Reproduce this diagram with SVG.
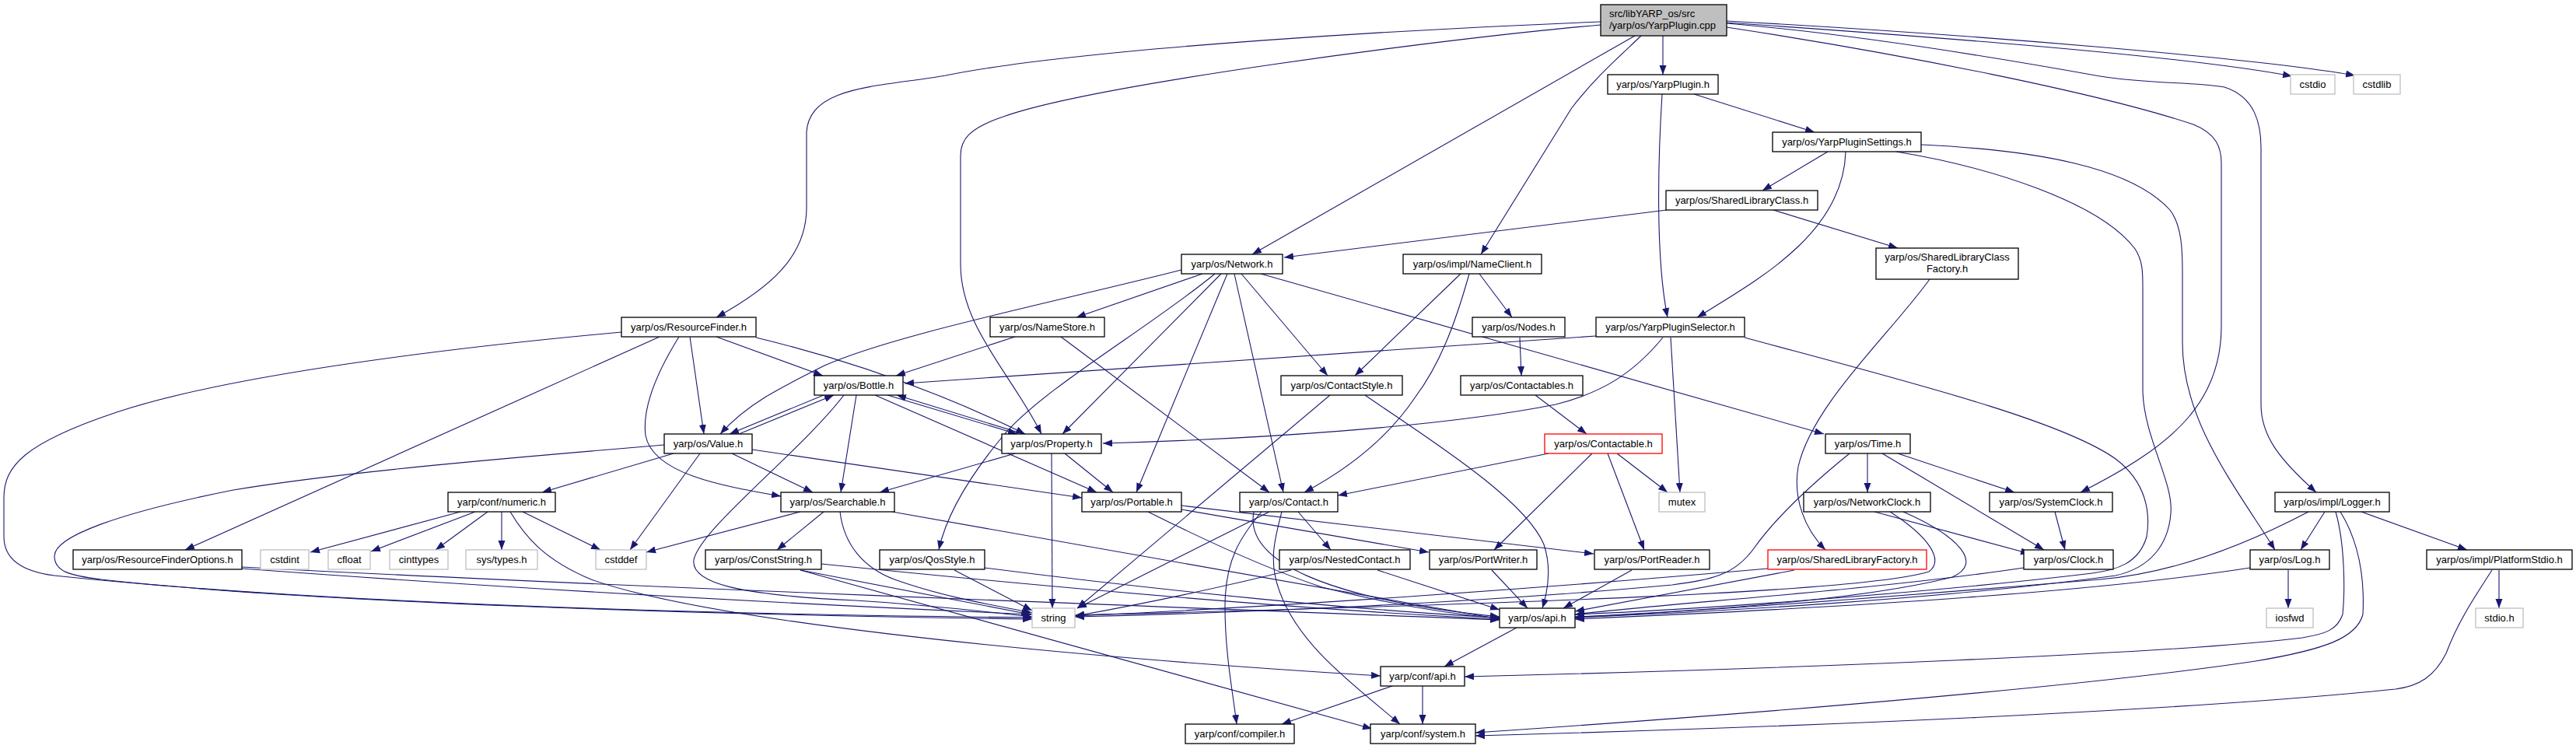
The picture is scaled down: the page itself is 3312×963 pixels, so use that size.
<svg xmlns="http://www.w3.org/2000/svg" width="3312" height="963" viewBox="0 0 3312 963">
<defs>
<marker id="a" markerWidth="12" markerHeight="10" refX="12" refY="5" orient="auto" markerUnits="userSpaceOnUse"><path d="M0,0.5 L12,5 L0,9.5 z" fill="#191970"/></marker>
<style>
.n rect{fill:#fff;stroke:#000;stroke-width:1.3}
.g rect{stroke:#bfbfbf}
.r rect{stroke:#ff0000}
.m rect{fill:#bfbfbf}
text{font-family:"Liberation Sans",Arial,Helvetica,sans-serif;font-size:13px;fill:#000;text-anchor:middle}
.e path{fill:none;stroke:#191970;stroke-width:1.1;marker-end:url(#a)}
</style>
</defs>
<rect width="3312" height="963" fill="#fff"/>
<g class="e" id="edges">
<path d="M2138,46 L2138,96"/>
<path d="M2220,29 C2450,45 2800,70 2947,98"/>
<path d="M2220,27 C2550,45 2900,75 3028,97"/>
<path d="M2220,30 C2400,45 2600,80 2700,98 C2760,108 2820,105 2860,112 C2900,125 2907,160 2907,190 L2907,520 C2907,560 2930,590 2978,633"/>
<path d="M2220,35 C2450,70 2700,120 2820,160 C2850,172 2856,190 2856,210 L2856,420 C2856,520 2790,575 2675,633"/>
<path d="M2102,46 L1610,327"/>
<path d="M2110,46 C2085,70 2050,100 2020,140 L1904,327"/>
<path d="M2058,28 C1850,36 1400,60 1216,97 C1130,112 1040,110 1037,170 L1037,267 C1037,330 990,370 921,408"/>
<path d="M2058,32 C1850,50 1400,110 1290,150 C1245,165 1235,180 1235,200 L1235,340 C1235,420 1300,480 1339,558"/>
<path d="M2178,121 L2333,170"/>
<path d="M2137,121 C2132,200 2128,330 2144,408"/>
<path d="M2350,195 L2266,245"/>
<path d="M2373,195 C2370,300 2260,360 2182,408"/>
<path d="M2470,186 C2620,193 2740,215 2790,270 C2805,290 2806,320 2806,350 L2806,440 C2806,540 2870,620 2925,707"/>
<path d="M2438,195 C2560,215 2700,260 2745,320 C2755,335 2755,350 2755,370 L2755,500 C2755,560 2795,620 2791,660 C2788,700 2765,730 2720,740 C2500,770 2200,787 2025,794"/>
<path d="M2243,434 C2450,490 2650,540 2720,590 C2760,620 2765,660 2760,690 C2750,725 2720,733 2690,737 C2500,760 2200,783 2025,790"/>
<path d="M2143,270 L1651,331"/>
<path d="M2280,270 L2440,319"/>
<path d="M2481,359 C2430,430 2330,520 2312,600 C2305,640 2320,680 2347,707"/>
<path d="M1546,352 L1384,408"/>
<path d="M1519,347 C1350,390 1150,430 1060,470 C1000,500 960,520 926,558"/>
<path d="M1562,352 C1480,420 1340,500 1290,560 C1240,620 1215,670 1207,707"/>
<path d="M1570,352 L1366,558"/>
<path d="M1578,352 L1461,633"/>
<path d="M1587,352 L1650,633"/>
<path d="M1596,352 L1707,483"/>
<path d="M1621,352 L2345,558"/>
<path d="M1878,352 L1742,483"/>
<path d="M1889,352 C1870,420 1850,470 1820,510 C1780,570 1720,610 1677,633"/>
<path d="M1902,352 L1944,408"/>
<path d="M799,427 C600,445 300,480 150,530 C30,570 5,600 5,640 L5,690 C5,720 30,735 70,740 C400,775 900,790 1327,794"/>
<path d="M848,433 L238,707"/>
<path d="M873,433 C850,470 825,520 830,560 C840,610 930,625 1004,638"/>
<path d="M887,433 L905,558"/>
<path d="M921,433 L1058,483"/>
<path d="M972,434 C1080,460 1200,500 1318,558"/>
<path d="M1305,433 L1152,483"/>
<path d="M1364,433 L1632,633"/>
<path d="M1954,434 L1956,483"/>
<path d="M2052,432 L1163,493"/>
<path d="M2138,434 C2100,480 2060,505 2000,520 C1850,550 1600,565 1418,570"/>
<path d="M2148,434 L2160,633"/>
<path d="M1059,508 L938,558"/>
<path d="M950,558 L1072,508"/>
<path d="M1085,508 C1030,580 900,680 892,720 C888,750 950,765 1100,772 C1200,778 1280,788 1327,793"/>
<path d="M1101,508 L1081,633"/>
<path d="M1125,508 L1410,633"/>
<path d="M1141,508 L1308,558"/>
<path d="M1316,558 L1153,508"/>
<path d="M866,583 L697,633"/>
<path d="M900,583 L810,707"/>
<path d="M941,583 L1045,633"/>
<path d="M967,578 L1391,640"/>
<path d="M854,572 C700,585 450,605 300,630 C150,660 70,690 70,715 C70,735 90,740 130,745 C400,775 900,790 1327,796"/>
<path d="M1305,583 L1131,633"/>
<path d="M1352,583 L1353,782"/>
<path d="M1369,583 L1431,633"/>
<path d="M1029,658 L831,710"/>
<path d="M1059,658 L999,707"/>
<path d="M1080,658 C1085,700 1110,730 1150,745 C1220,770 1290,780 1327,788"/>
<path d="M1147,658 L1928,796"/>
<path d="M1519,655 L1837,710"/>
<path d="M1519,650 L2049,712"/>
<path d="M1476,658 C1560,700 1640,735 1700,755 C1800,780 1870,790 1928,795"/>
<path d="M1632,658 L1385,782"/>
<path d="M1622,658 C1595,690 1575,720 1575,780 C1575,840 1585,890 1590,931"/>
<path d="M1648,658 C1640,690 1630,720 1645,760 C1670,830 1740,880 1800,931"/>
<path d="M1612,658 C1600,720 1700,770 1928,793"/>
<path d="M1669,658 L1711,707"/>
<path d="M1660,733 C1550,760 1450,780 1382,792"/>
<path d="M1771,733 L1928,784"/>
<path d="M1710,508 L1385,782"/>
<path d="M1755,508 C1830,560 1960,640 1985,700 C1995,730 1990,760 1983,782"/>
<path d="M1974,508 L2040,558"/>
<path d="M1991,583 L1720,637"/>
<path d="M2047,583 L1921,707"/>
<path d="M2067,583 L2114,707"/>
<path d="M2079,583 L2144,633"/>
<path d="M2378,583 C2320,630 2280,670 2255,705 C2230,740 2200,745 2150,752 C1900,775 1600,788 1382,793"/>
<path d="M2401,583 L2401,633"/>
<path d="M2420,583 L2628,707"/>
<path d="M2440,583 L2590,633"/>
<path d="M2410,658 L2610,712"/>
<path d="M2430,658 C2480,690 2500,720 2480,735 C2400,760 2000,775 1382,791"/>
<path d="M2447,658 C2520,690 2550,725 2510,742 C2400,770 2200,785 2025,793"/>
<path d="M2642,658 L2655,707"/>
<path d="M2602,730 C2400,760 2150,775 2025,790"/>
<path d="M2273,731 C2000,755 1650,780 1382,792"/>
<path d="M2307,733 L2025,786"/>
<path d="M2968,658 C2850,720 2760,740 2700,745 C2400,770 2200,785 2025,794"/>
<path d="M2989,658 L2958,707"/>
<path d="M3003,658 C3015,700 3015,760 3012,790 C3005,810 2990,815 2960,820 C2800,840 2300,860 1883,870"/>
<path d="M3009,658 C3035,700 3040,750 3038,790 C3030,820 2990,835 2900,850 C2700,880 2300,915 1897,942"/>
<path d="M3036,658 L3172,707"/>
<path d="M2942,733 L2942,782"/>
<path d="M2893,730 C2700,760 2400,780 2025,796"/>
<path d="M3213,733 L3213,782"/>
<path d="M3204,733 C3180,770 3160,800 3145,840 C3130,870 3110,882 3080,886 C2800,915 2300,935 1897,946"/>
<path d="M592,658 L399,710"/>
<path d="M611,658 L477,709"/>
<path d="M627,658 L560,707"/>
<path d="M645,658 L645,707"/>
<path d="M672,658 L772,707"/>
<path d="M656,658 C675,690 700,720 760,745 C900,795 1300,840 1775,869"/>
<path d="M311,731 C700,760 1100,780 1327,790"/>
<path d="M311,729 C800,755 1500,780 1928,797"/>
<path d="M1029,733 L1325,790"/>
<path d="M1056,725 C1400,760 1700,785 1928,796"/>
<path d="M1029,733 L1764,937"/>
<path d="M1227,733 L1327,785"/>
<path d="M1266,730 C1500,760 1750,785 1928,794"/>
<path d="M1918,733 L1964,782"/>
<path d="M2098,733 L2010,782"/>
<path d="M1950,807 L1857,857"/>
<path d="M1790,882 L1648,931"/>
<path d="M1829,882 L1829,931"/>
</g>
<g id="nodes">
<g id="n_main" class="n m"><rect x="2058" y="6" width="162" height="40"/><text x="2069" y="22" style="text-anchor:start">src/libYARP_os/src</text><text x="2069" y="37" style="text-anchor:start">/yarp/os/YarpPlugin.cpp</text></g>
<g id="n_yarpplugin" class="n"><rect x="2067" y="96" width="142" height="25"/><text x="2138" y="113">yarp/os/YarpPlugin.h</text></g>
<g id="n_cstdio" class="n g"><rect x="2945" y="96" width="57" height="25"/><text x="2973.5" y="113">cstdio</text></g>
<g id="n_cstdlib" class="n g"><rect x="3026" y="96" width="60" height="25"/><text x="3056" y="113">cstdlib</text></g>
<g id="n_settings" class="n"><rect x="2279" y="170" width="191" height="25"/><text x="2374.5" y="187">yarp/os/YarpPluginSettings.h</text></g>
<g id="n_slclass" class="n"><rect x="2142" y="245" width="195" height="25"/><text x="2239.5" y="262">yarp/os/SharedLibraryClass.h</text></g>
<g id="n_slcfactory" class="n"><rect x="2412" y="319" width="183" height="40"/><text x="2503.5" y="335">yarp/os/SharedLibraryClass</text><text x="2503.5" y="350">Factory.h</text></g>
<g id="n_network" class="n"><rect x="1519" y="327" width="130" height="25"/><text x="1584" y="344">yarp/os/Network.h</text></g>
<g id="n_nameclient" class="n"><rect x="1804" y="327" width="178" height="25"/><text x="1893" y="344">yarp/os/impl/NameClient.h</text></g>
<g id="n_resfinder" class="n"><rect x="799" y="408" width="173" height="25"/><text x="885.5" y="425">yarp/os/ResourceFinder.h</text></g>
<g id="n_namestore" class="n"><rect x="1273" y="408" width="147" height="25"/><text x="1346.5" y="425">yarp/os/NameStore.h</text></g>
<g id="n_nodes" class="n"><rect x="1893" y="408" width="119" height="25"/><text x="1952.5" y="425">yarp/os/Nodes.h</text></g>
<g id="n_selector" class="n"><rect x="2052" y="408" width="191" height="25"/><text x="2147.5" y="425">yarp/os/YarpPluginSelector.h</text></g>
<g id="n_bottle" class="n"><rect x="1047" y="483" width="114" height="25"/><text x="1104" y="500">yarp/os/Bottle.h</text></g>
<g id="n_contactstyle" class="n"><rect x="1647" y="483" width="156" height="25"/><text x="1725" y="500">yarp/os/ContactStyle.h</text></g>
<g id="n_contactables" class="n"><rect x="1878" y="483" width="157" height="25"/><text x="1956.5" y="500">yarp/os/Contactables.h</text></g>
<g id="n_value" class="n"><rect x="854" y="558" width="113" height="25"/><text x="910.5" y="575">yarp/os/Value.h</text></g>
<g id="n_property" class="n"><rect x="1288" y="558" width="128" height="25"/><text x="1352" y="575">yarp/os/Property.h</text></g>
<g id="n_contactable" class="n r"><rect x="1986" y="558" width="151" height="25"/><text x="2061.5" y="575">yarp/os/Contactable.h</text></g>
<g id="n_time" class="n"><rect x="2347" y="558" width="109" height="25"/><text x="2401.5" y="575">yarp/os/Time.h</text></g>
<g id="n_numeric" class="n"><rect x="576" y="633" width="138" height="25"/><text x="645" y="650">yarp/conf/numeric.h</text></g>
<g id="n_searchable" class="n"><rect x="1004" y="633" width="146" height="25"/><text x="1077" y="650">yarp/os/Searchable.h</text></g>
<g id="n_portable" class="n"><rect x="1391" y="633" width="128" height="25"/><text x="1455" y="650">yarp/os/Portable.h</text></g>
<g id="n_contact" class="n"><rect x="1594" y="633" width="126" height="25"/><text x="1657" y="650">yarp/os/Contact.h</text></g>
<g id="n_mutex" class="n g"><rect x="2133" y="633" width="59" height="25"/><text x="2162.5" y="650">mutex</text></g>
<g id="n_netclock" class="n"><rect x="2319" y="633" width="163" height="25"/><text x="2400.5" y="650">yarp/os/NetworkClock.h</text></g>
<g id="n_sysclock" class="n"><rect x="2558" y="633" width="158" height="25"/><text x="2637" y="650">yarp/os/SystemClock.h</text></g>
<g id="n_logger" class="n"><rect x="2925" y="633" width="147" height="25"/><text x="2998.5" y="650">yarp/os/impl/Logger.h</text></g>
<g id="n_rfoptions" class="n"><rect x="94" y="707" width="217" height="25"/><text x="202.5" y="724">yarp/os/ResourceFinderOptions.h</text></g>
<g id="n_cstdint" class="n g"><rect x="335" y="707" width="62" height="25"/><text x="366" y="724">cstdint</text></g>
<g id="n_cfloat" class="n g"><rect x="422" y="707" width="54" height="25"/><text x="449" y="724">cfloat</text></g>
<g id="n_cinttypes" class="n g"><rect x="501" y="707" width="75" height="25"/><text x="538.5" y="724">cinttypes</text></g>
<g id="n_systypes" class="n g"><rect x="599" y="707" width="92" height="25"/><text x="645" y="724">sys/types.h</text></g>
<g id="n_cstddef" class="n g"><rect x="766" y="707" width="65" height="25"/><text x="798.5" y="724">cstddef</text></g>
<g id="n_conststring" class="n"><rect x="907" y="707" width="149" height="25"/><text x="981.5" y="724">yarp/os/ConstString.h</text></g>
<g id="n_qosstyle" class="n"><rect x="1131" y="707" width="135" height="25"/><text x="1198.5" y="724">yarp/os/QosStyle.h</text></g>
<g id="n_nested" class="n"><rect x="1645" y="707" width="168" height="25"/><text x="1729" y="724">yarp/os/NestedContact.h</text></g>
<g id="n_portwriter" class="n"><rect x="1838" y="707" width="138" height="25"/><text x="1907" y="724">yarp/os/PortWriter.h</text></g>
<g id="n_portreader" class="n"><rect x="2050" y="707" width="148" height="25"/><text x="2124" y="724">yarp/os/PortReader.h</text></g>
<g id="n_slfactory" class="n r"><rect x="2273" y="707" width="204" height="25"/><text x="2375" y="724">yarp/os/SharedLibraryFactory.h</text></g>
<g id="n_clock" class="n"><rect x="2602" y="707" width="115" height="25"/><text x="2659.5" y="724">yarp/os/Clock.h</text></g>
<g id="n_log" class="n"><rect x="2893" y="707" width="102" height="25"/><text x="2944" y="724">yarp/os/Log.h</text></g>
<g id="n_platstdio" class="n"><rect x="3120" y="707" width="187" height="25"/><text x="3213.5" y="724">yarp/os/impl/PlatformStdio.h</text></g>
<g id="n_string" class="n g"><rect x="1327" y="782" width="55" height="25"/><text x="1354.5" y="799">string</text></g>
<g id="n_osapi" class="n"><rect x="1928" y="782" width="97" height="25"/><text x="1976.5" y="799">yarp/os/api.h</text></g>
<g id="n_iosfwd" class="n g"><rect x="2914" y="782" width="60" height="25"/><text x="2944" y="799">iosfwd</text></g>
<g id="n_stdio" class="n g"><rect x="3183" y="782" width="61" height="25"/><text x="3213.5" y="799">stdio.h</text></g>
<g id="n_confapi" class="n"><rect x="1775" y="857" width="108" height="25"/><text x="1829" y="874">yarp/conf/api.h</text></g>
<g id="n_compiler" class="n"><rect x="1524" y="931" width="140" height="25"/><text x="1594" y="948">yarp/conf/compiler.h</text></g>
<g id="n_system" class="n"><rect x="1762" y="931" width="135" height="25"/><text x="1829.5" y="948">yarp/conf/system.h</text></g>
</g>
</svg>
